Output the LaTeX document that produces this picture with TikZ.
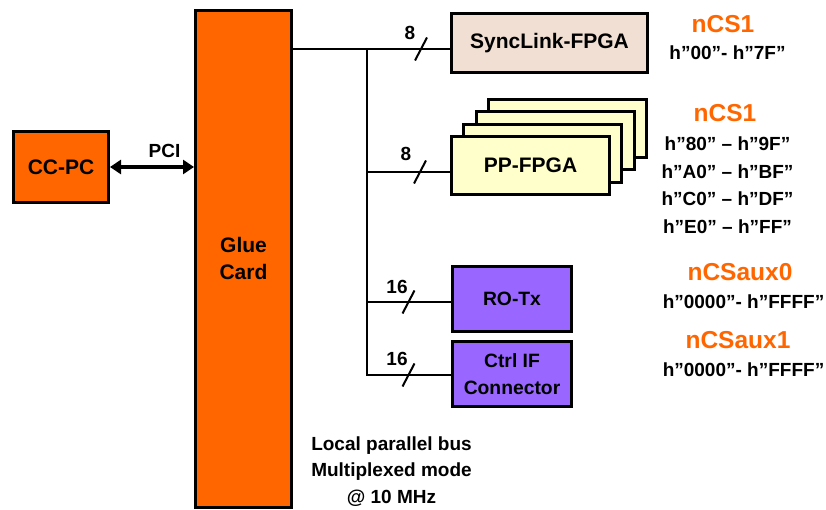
\documentclass[tikz,border=0pt]{standalone}
\usepackage{fontspec}
\setmainfont{Liberation Sans}
\usetikzlibrary{arrows.meta}
\definecolor{cardorange}{HTML}{FF6600}
\definecolor{synctan}{HTML}{F0DFD2}
\definecolor{ppyellow}{HTML}{FFFFCC}
\definecolor{ifpurple}{HTML}{9966FF}
\begin{document}
\begin{tikzpicture}[x=1pt,y=-1pt,
  box/.style={draw, line width=3pt, inner sep=0pt, align=center,
    font=\bfseries\fontsize{21}{27}\selectfont},
  smallbox/.style={box, font=\bfseries\fontsize{19.3}{27}\selectfont},
  bus/.style={line width=2pt},
  buswidth/.style={line width=2pt},
  lbl/.style={inner sep=0pt, font=\bfseries\fontsize{19}{26.5}\selectfont},
  cs/.style={inner sep=0pt, text=cardorange, font=\bfseries\fontsize{24.5}{29}\selectfont},
  pci/.style={line width=3.5pt, {Triangle[length=11pt,width=14pt]}-{Triangle[length=11pt,width=14pt]}}
]
\useasboundingbox (0,0) rectangle (826,510);

% main blocks
\node[box, fill=cardorange, minimum width=95pt, minimum height=71pt] (ccpc) at (61,167) {CC-PC};
\node[box, fill=cardorange, minimum width=96pt, minimum height=496.5pt] (glue) at (243.5,258.75) {Glue\\Card};

% peripheral blocks
\node[box, fill=synctan, minimum width=196pt, minimum height=59pt] (sync) at (549.5,43) {SyncLink-FPGA};
\foreach \i in {3,2,1}
  \node[box, fill=ppyellow, minimum width=158pt, minimum height=58pt] (pp\i) at (530.5+12.3*\i,165.5-12.3*\i) {};
\node[box, fill=ppyellow, minimum width=158pt, minimum height=58pt] (pp) at (530.5,165.5) {PP-FPGA};
\node[smallbox, fill=ifpurple, minimum width=119pt, minimum height=65pt] (rotx) at (512,299) {RO-Tx};
\node[smallbox, fill=ifpurple, minimum width=119pt, minimum height=65pt] (ctrl) at (512,374) {Ctrl IF\\Connector};

% PCI link
\draw[pci] (ccpc.east) -- (ccpc.east -| glue.west);
\node[lbl] (pcilbl) at (164.5,151) {PCI};

% local bus
\coordinate (j0) at (367,49);
\coordinate (j1) at (367,172);
\coordinate (j2) at (367,302);
\coordinate (j3) at (367,375);
\draw[bus] (glue.east |- j0) -- (sync.west |- j0);
\draw[bus] (j0) -- (j3) -- (ctrl.west |- j3);
\draw[bus] (j1) -- (pp.west |- j1);
\draw[bus] (j2) -- (rotx.west |- j2);

% bus width marks
\coordinate (s0) at (421,49);
\coordinate (s1) at (420,172);
\coordinate (s2) at (408.5,302);
\coordinate (s3) at (408.5,375);
\foreach \s in {s0,s1,s2,s3}
  \draw[buswidth] ([shift={(-6,11.5)}]\s) -- ([shift={(6,-11.5)}]\s);
\node[lbl] (w0) at (410,33) {8};
\node[lbl] (w1) at (406,154) {8};
\node[lbl] (w2) at (397,287) {16};
\node[lbl] (w3) at (397,359) {16};

% bus description
\node[lbl, align=center] (busnote) at (391.5,471.5) {Local parallel bus\\Multiplexed mode\\@ 10 MHz};

% chip selects and address ranges
\node[cs] (cs0) at (723,24) {nCS1};
\node[lbl] (a0) at (727.5,53) {h”00”- h”7F”};
\node[cs] (cs1) at (725,113) {nCS1};
\node[lbl] (a1) at (727.5,144) {h”80” – h”9F”};
\node[lbl] (a2) at (727.5,172) {h”A0” – h”BF”};
\node[lbl] (a3) at (727.5,199) {h”C0” – h”DF”};
\node[lbl] (a4) at (727.5,227) {h”E0” – h”FF”};
\node[cs] (cs2) at (740,272) {nCSaux0};
\node[lbl] (a5) at (743.5,302) {h”0000”- h”FFFF”};
\node[cs] (cs3) at (738,340) {nCSaux1};
\node[lbl] (a6) at (743.5,370) {h”0000”- h”FFFF”};
\end{tikzpicture}
\end{document}
